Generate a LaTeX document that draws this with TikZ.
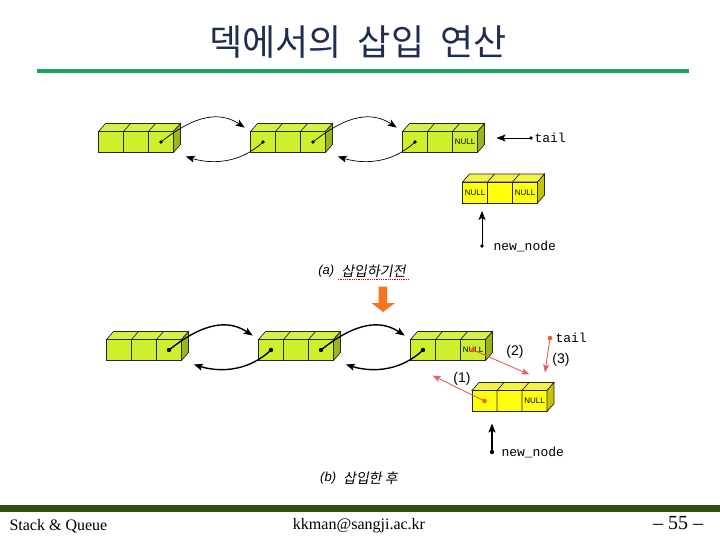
\documentclass[tikz,border=0pt]{standalone}
\usepackage{fontspec}
\setmainfont{Liberation Serif}
\newfontfamily\kofont{Noto Sans CJK KR}
\newfontfamily\koslant{Noto Sans CJK KR}[FakeSlant=0.18]
\newfontfamily\monofont{Liberation Mono}
\newfontfamily\labfont{Liberation Sans}
\usetikzlibrary{positioning,arrows.meta,calc}
\definecolor{lgfront}{HTML}{CCF02C}
\definecolor{lgtop}{HTML}{D8F244}
\definecolor{lgside}{HTML}{96B81C}
\definecolor{lyfront}{HTML}{FFFF0A}
\definecolor{lytop}{HTML}{F4F244}
\definecolor{lyside}{HTML}{C4C400}
\definecolor{ttl}{HTML}{1F2D50}
\definecolor{greenrule}{HTML}{1BA35A}
\definecolor{foot}{HTML}{30520F}
\definecolor{ins}{HTML}{E2605E}
\definecolor{insdot}{HTML}{F0602C}
\definecolor{down}{HTML}{F47420}

\begin{document}
\begin{tikzpicture}[x=1pt, y=-1pt, node distance=77pt,
  cellrow/.style={draw=black!85, line width=0.7pt, fill=#1, minimum width=75pt, minimum height=21pt, inner sep=0pt, outer sep=0pt},
  cellrow/.default=lgfront,
  face/.style={draw=black!85, line width=0.7pt},
  nul/.style={font=\labfont\fontsize{8}{8}\selectfont, inner sep=0pt},
  mono/.style={font=\monofont\fontsize{13}{13}\selectfont, anchor=west},
  link/.style={-{Stealth[length=9pt, width=7pt, inset=2pt]}, line width=0.7pt},
  linkb/.style={link, line width=1.4pt},
  fwd/.style={shorten >=7pt}, bwd/.style={shorten >=13pt},
  insarr/.style={draw=ins, line width=0.9pt, -{Stealth[length=8pt, width=6pt, inset=1.5pt]}},
  num/.style={font=\labfont\fontsize{14}{14}\selectfont},
  captext/.style={font=\koslant\fontsize{14}{14}\selectfont}]
\useasboundingbox (0,0) rectangle (720,540);

% title
\node[font={\kofont\fontsize{36}{38}\selectfont\spaceskip=0.45em\relax}, text=ttl] (title) at (358,42) {덱에서의 삽입 연산};
\draw[greenrule, line width=4pt] (37,71.5) -- (689,71.5);

% (a) before insertion
\node[cellrow] (a1) at (136,142) {};
\node[cellrow, right=of a1] (a2) {};
\node[cellrow, right=of a2] (a3) {};
\node[cellrow=lyfront] (an) at (500,192.5) {};
% (b) after insertion
\node[cellrow] (b1) at (144,350) {};
\node[cellrow, right=of b1] (b2) {};
\node[cellrow, right=of b2] (b3) {};
\node[cellrow=lyfront] (bn) at (509.5,401) {};

% top and side faces, cell lines
\foreach \n/\f in {a1/lg,a2/lg,a3/lg,an/ly,b1/lg,b2/lg,b3/lg,bn/ly}{
  \draw[face, fill=\f top] (\n.north west) -- ++(7,-8) -- ($(\n.north east)+(7,-8)$) -- (\n.north east) -- cycle;
  \draw[face, fill=\f side] (\n.north east) -- ++(7,-8) -- ++(0,21) -- (\n.south east) -- cycle;
  \foreach \i in {25,50}
    \draw[face] ([xshift=\i pt]\n.south west) -- ([xshift=\i pt]\n.north west) -- ++(7,-8);
  \coordinate (\n d1) at ([xshift=-25pt]\n.center);
  \coordinate (\n d3) at ([xshift=25pt]\n.center);
}

\node[nul] (a3n) at (a3d3) {NULL};
\node[nul] (ann1) at (and1) {NULL};
\node[nul] (ann3) at (and3) {NULL};
\node[nul] (b3n) at (b3d3) {NULL};
\node[nul] (bnn) at (bnd3) {NULL};

% links between the list nodes
\foreach \row/\s in {a/link, b/linkb}{
  \draw[\s, fwd] (\row1d3) .. controls +(35,-28) and +(-30,-20) .. (\row2.north west);
  \draw[\s, bwd] (\row2d1) .. controls +(-30,28) and +(25,8) .. (\row1.south east);
  \draw[\s, fwd] (\row2d3) .. controls +(35,-28) and +(-30,-20) .. (\row3.north west);
  \draw[\s, bwd] (\row3d1) .. controls +(-30,28) and +(25,8) .. (\row2.south east);
}
\foreach \p in {a1d3,a2d1,a2d3,a3d1} \fill (\p) circle (1.8);
\foreach \p in {b1d3,b2d1,b2d3,b3d1} \fill (\p) circle (2.2);

% tail and new_node before
\node[mono] (tailA) at (531,138) {tail};
\fill (tailA.west) circle (1.8);
\draw[link, shorten >=19pt] (tailA.west) -- (tailA.west -| a3.east);
\node[mono] (nnA) at (490,246) {new\_node};
\coordinate (nnA0) at ([xshift=-8pt]nnA.west);
\fill (nnA0) circle (1.8);
\draw[link, shorten >=8pt] (nnA0) -- (nnA0 |- an.south);

\node[captext] (capAk) at (373.5,271) {삽입하기전};
\node[font=\labfont\itshape\fontsize{13}{13}\selectfont, left=0pt of capAk] (capA) {(a)};
\draw[red!85!black, densely dotted, line width=0.8pt] ([yshift=-3pt]capAk.base west) -- ([yshift=-3pt]capAk.base east);
\fill[down] (378.5,286.5) -- (387,286.5) -- (387,303) -- (395,303) -- (383,312) -- (371.5,303) -- (378.5,303) -- cycle;

% tail and new_node after
\node[mono] (tailB) at (552,338) {tail};
\coordinate (tailB0) at ([xshift=-2pt]tailB.west);
\node[mono] (nnB) at (498,452) {new\_node};
\coordinate (nnB0) at ([xshift=-6pt]nnB.west);
\fill (nnB0) circle (2.2);
\draw[linkb, shorten >=12pt] (nnB0) -- (nnB0 |- bn.south);

% insertion steps
\coordinate (r1) at ($(b3.south west)+(22,15)$);
\coordinate (r2) at ($(bn.north)+(20,-16)$);
\coordinate (r3) at ($(bn.north east)+(-2,-18)$);
\draw[insarr] (bnd1) -- (r1);
\draw[insarr] (b3n.center) -- (r2);
\draw[insarr] (tailB0) -- (r3);
\foreach \p in {bnd1,b3n.center,tailB0} \fill[insdot] (\p) circle (2.3);
\node[num] (l1) at (462,379) {(1)};
\node[num] (l2) at (515,352) {(2)};
\node[num] (l3) at (561,360) {(3)};

\node[captext] (capBk) at (370.5,478) {삽입한 후};
\node[font=\labfont\itshape\fontsize{13}{13}\selectfont, left=0pt of capBk] (capB) {(b)};

% footer
\fill[foot] (0,505) rectangle (720,512);
\node[font=\fontsize{16}{16}\selectfont, anchor=west] (ft1) at (6,526) {Stack \& Queue};
\node[font=\fontsize{16}{16}\selectfont] (ft2) at (359,526) {kkman@sangji.ac.kr};
\node[font=\fontsize{20}{20}\selectfont] (ft3) at (678,523) {-- 55 --};
\end{tikzpicture}
\end{document}
